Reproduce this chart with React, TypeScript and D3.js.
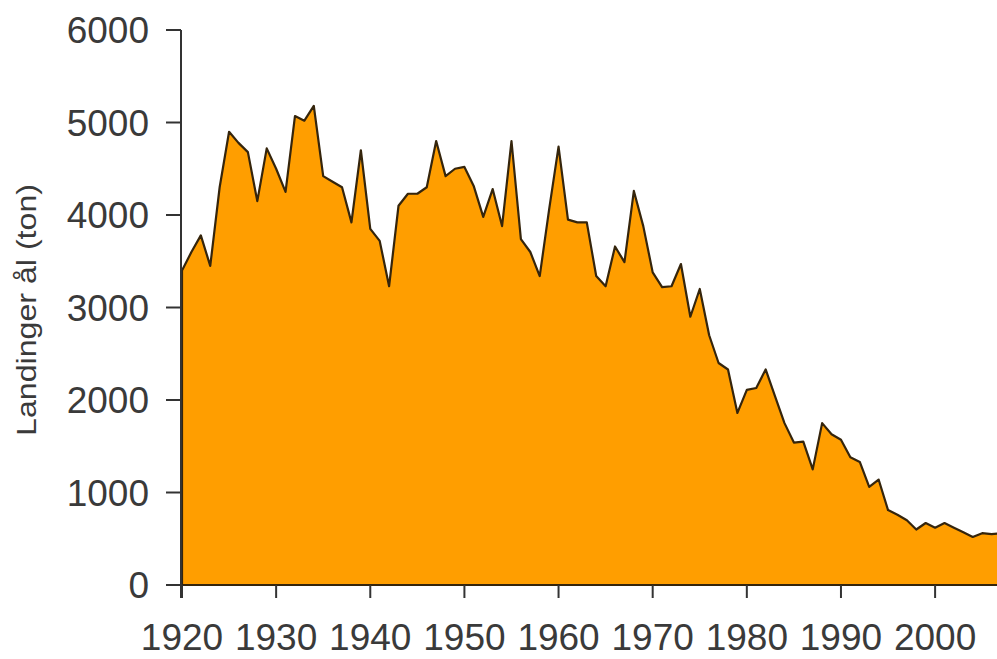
import * as d3 from "d3";
import { useEffect, useRef } from "react";

// landings of eel per year (ton)
const startYear = 1920;
const landings = [
  3400, 3600, 3780, 3450, 4300, 4900, 4780, 4680, 4150, 4720,
  4500, 4250, 5070, 5020, 5180, 4420, 4360, 4300, 3920, 4700,
  3850, 3720, 3230, 4100, 4230, 4230, 4300, 4800, 4420, 4500,
  4520, 4310, 3980, 4280, 3880, 4800, 3740, 3600, 3340, 4060,
  4740, 3950, 3920, 3920, 3340, 3230, 3660, 3490, 4260, 3880,
  3380, 3220, 3230, 3470, 2900, 3200, 2700, 2400, 2330, 1860,
  2110, 2130, 2330, 2040, 1750, 1540, 1550, 1250, 1750, 1630,
  1570, 1380, 1330, 1060, 1140, 810, 760, 700, 600, 670,
  620, 670, 620, 570, 520, 560, 550, 560,
];
const years = landings.map((_, i) => startYear + i);

const xTicks = [1920, 1930, 1940, 1950, 1960, 1970, 1980, 1990, 2000];
const yTicks = [0, 1000, 2000, 3000, 4000, 5000, 6000];
const yLabel = "Landinger ål (ton)";

const width = 997;
const height = 659;

export default function App() {
  const ref = useRef<SVGSVGElement | null>(null);

  useEffect(() => {
    if (!ref.current) return;
    const svg = d3.select(ref.current);
    svg.selectAll("*").remove();

    const x = d3.scaleLinear().domain([1920, 2007]).range([182, 1001]);
    const y = d3.scaleLinear().domain([0, 6000]).range([585, 30]);

    const data = years.map((yr, i) => ({ year: yr, value: landings[i] }));

    const area = d3
      .area<{ year: number; value: number }>()
      .x((d) => x(d.year))
      .y0(y(0))
      .y1((d) => y(d.value));

    svg
      .append("path")
      .datum(data)
      .attr("d", area as any)
      .attr("fill", "#FF9E00")
      .attr("stroke", "#35250c")
      .attr("stroke-width", 2.2)
      .attr("stroke-linejoin", "round");

    const axisColor = "#333";
    const font = "'Liberation Sans', Arial, sans-serif";

    // y axis
    svg
      .append("line")
      .attr("x1", 181)
      .attr("x2", 181)
      .attr("y1", y(6000))
      .attr("y2", 598)
      .attr("stroke", axisColor)
      .attr("stroke-width", 2);

    svg
      .selectAll("line.ytick")
      .data(yTicks)
      .join("line")
      .attr("class", "ytick")
      .attr("x1", 166)
      .attr("x2", 181)
      .attr("y1", (d) => y(d))
      .attr("y2", (d) => y(d))
      .attr("stroke", axisColor)
      .attr("stroke-width", 2);

    svg
      .selectAll("text.ylab")
      .data(yTicks)
      .join("text")
      .attr("class", "ylab")
      .attr("x", 149)
      .attr("y", (d) => y(d))
      .attr("dy", "0.36em")
      .attr("text-anchor", "end")
      .style("font-family", font)
      .style("font-size", "37px")
      .attr("fill", "#3a3a3a")
      .text((d) => String(d));

    // x axis
    svg
      .selectAll("line.xtick")
      .data(xTicks)
      .join("line")
      .attr("class", "xtick")
      .attr("x1", (d) => x(d))
      .attr("x2", (d) => x(d))
      .attr("y1", y(0))
      .attr("y2", 598)
      .attr("stroke", axisColor)
      .attr("stroke-width", 2);

    svg
      .selectAll("text.xlab")
      .data(xTicks)
      .join("text")
      .attr("class", "xlab")
      .attr("x", (d) => x(d))
      .attr("y", 650)
      .attr("text-anchor", "middle")
      .style("font-family", font)
      .style("font-size", "37px")
      .attr("fill", "#3a3a3a")
      .text((d) => String(d));

    // axis title
    svg
      .append("text")
      .attr("transform", `translate(36, 310) rotate(-90)`)
      .attr("text-anchor", "middle")
      .attr("textLength", 252)
      .attr("lengthAdjust", "spacingAndGlyphs")
      .style("font-family", font)
      .style("font-size", "27px")
      .attr("fill", "#3a3a3a")
      .text(yLabel);
  }, []);

  return (
    <svg
      ref={ref}
      width={width}
      height={height}
      style={{ position: "absolute", left: 0, top: 0, background: "#fff" }}
    />
  );
}
